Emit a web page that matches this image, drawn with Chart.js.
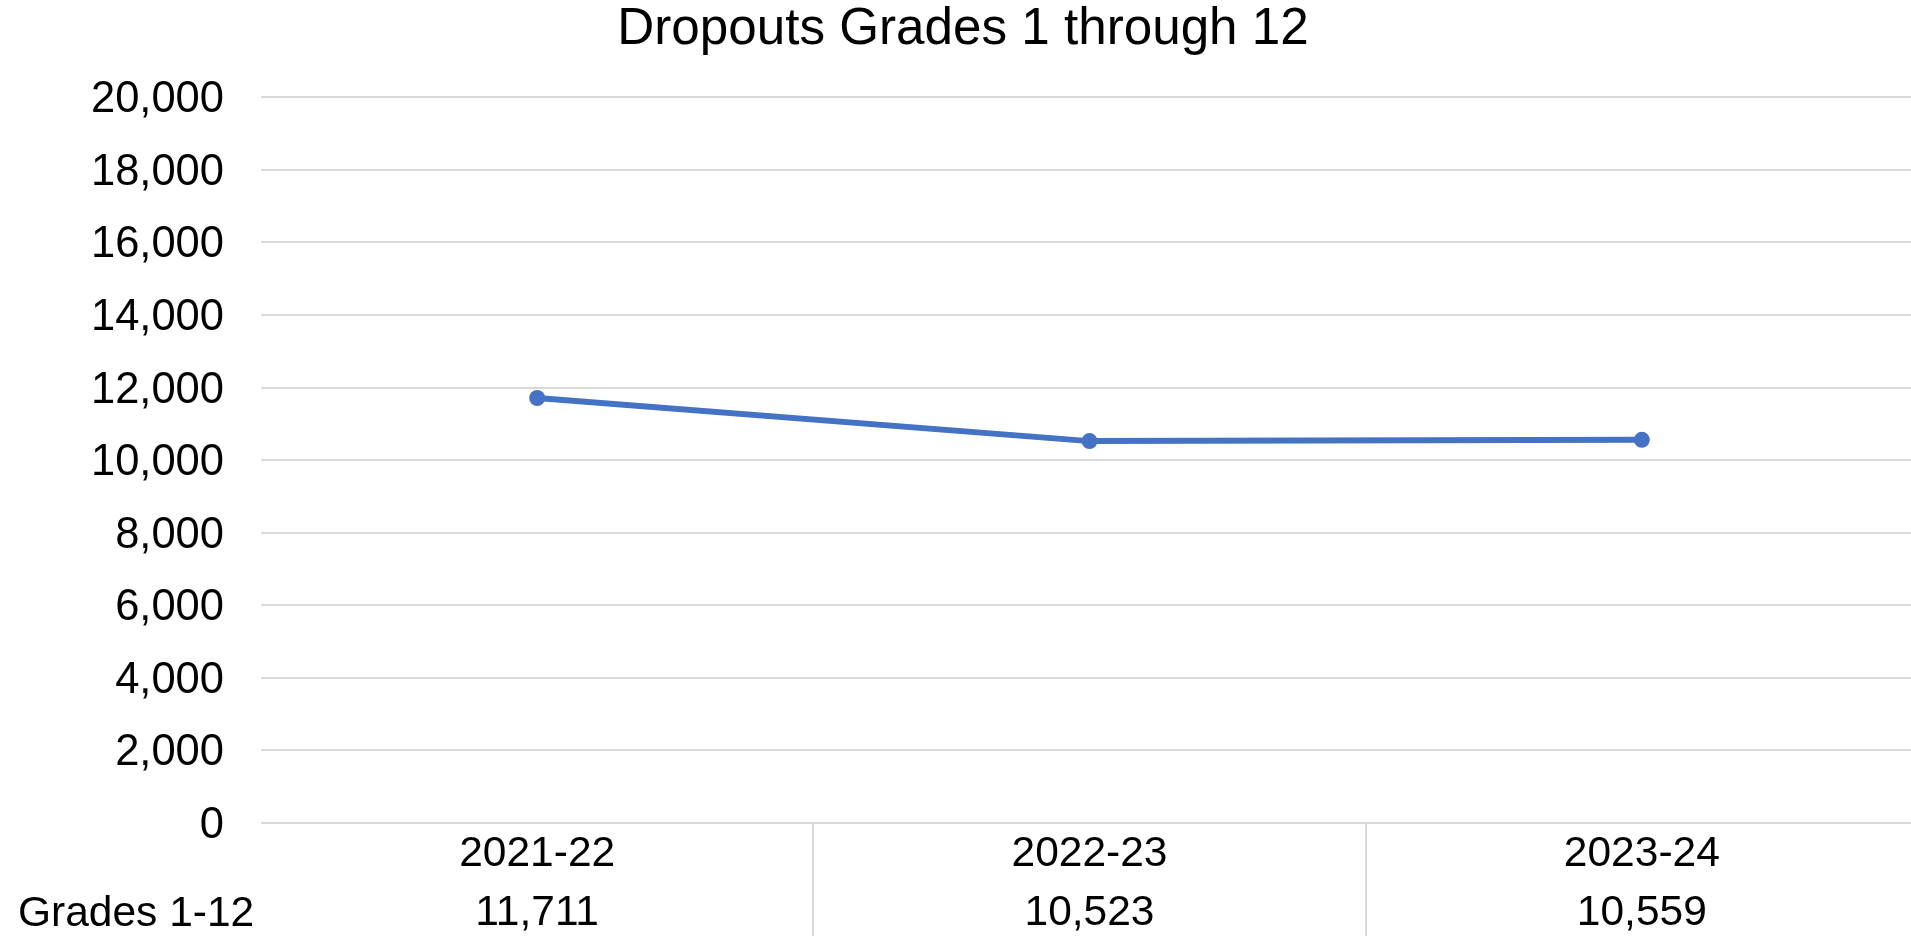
<!DOCTYPE html>
<html>
<head>
<meta charset="utf-8">
<script src="https://cdn.jsdelivr.net/npm/chart.js@4.4.1/dist/chart.umd.min.js"></script>
<style>
  html, body { margin:0; padding:0; background:#fff; overflow:hidden; }
  canvas { display:block; }
</style>
</head>
<body>
<canvas id="chart" width="1926" height="936"></canvas>
<script>
/* ---- data ---- */
const years    = ["2021-22", "2022-23", "2023-24"];
const dropouts = [11711, 10523, 10559];
const rowLabel = "Grades 1-12";
const titleText = "Dropouts Grades 1 through 12";
const yMin = 0, yMax = 20000, yStep = 2000;

const FONT = "'Liberation Sans', Arial, sans-serif";
const GRID = "#d9d9d9";
const LINE = "#4472c4";

// x tick label = year on line 1, value on line 2 (the data table)
const fmt = v => v.toLocaleString("en-US");
const xLabels = years.map((y, i) => [y, fmt(dropouts[i])]);

// row header for the data table
const tableHeader = {
  id: "tableHeader",
  afterDraw(chart) {
    const xs = chart.scales.x;
    const ctx = chart.ctx;
    ctx.save();
    ctx.font = "42.5px " + FONT;
    ctx.fillStyle = "#000";
    ctx.textAlign = "left";
    ctx.textBaseline = "middle";
    ctx.fillText(rowLabel, 18, xs.top + 91);
    ctx.restore();
  }
};

new Chart(document.getElementById("chart"), {
  type: "line",
  data: {
    labels: xLabels,
    datasets: [{
      data: dropouts,
      borderColor: LINE,
      backgroundColor: LINE,
      borderWidth: 6,
      pointRadius: 8,
      pointBackgroundColor: LINE,
      pointBorderColor: LINE,
      pointBorderWidth: 0,
      tension: 0
    }]
  },
  options: {
    responsive: false,
    animation: false,
    layout: { padding: 0 },
    plugins: {
      legend: { display: false },
      tooltip: { enabled: false },
      title: {
        display: true,
        text: titleText,
        color: "#000",
        font: { family: FONT, size: 51.2, weight: "normal", lineHeight: 1 },
        padding: { top: 4, bottom: 42 }
      }
    },
    scales: {
      x: {
        offset: true,
        border: { display: false },
        grid: {
          offset: true,
          drawOnChartArea: false,
          drawTicks: true,
          tickLength: 113,
          lineWidth: 2,
          color: c => (c.index === 0 || c.index === years.length) ? "rgba(0,0,0,0)" : GRID
        },
        ticks: {
          color: "#000",
          padding: -111,
          autoSkip: false,
          maxRotation: 0,
          font: { family: FONT, size: 42.5, lineHeight: 1.39 }
        },
        afterFit: s => { s.height = 113; }
      },
      y: {
        min: yMin,
        max: yMax,
        border: { display: false },
        grid: { color: GRID, lineWidth: 2, drawTicks: false },
        ticks: {
          stepSize: yStep,
          color: "#000",
          padding: 37,
          labelOffset: 3,
          font: { family: FONT, size: 43.5 },
          callback: v => fmt(v)
        },
        afterFit: s => { s.width = 261; }
      }
    }
  },
  plugins: [tableHeader]
});
</script>
</body>
</html>
